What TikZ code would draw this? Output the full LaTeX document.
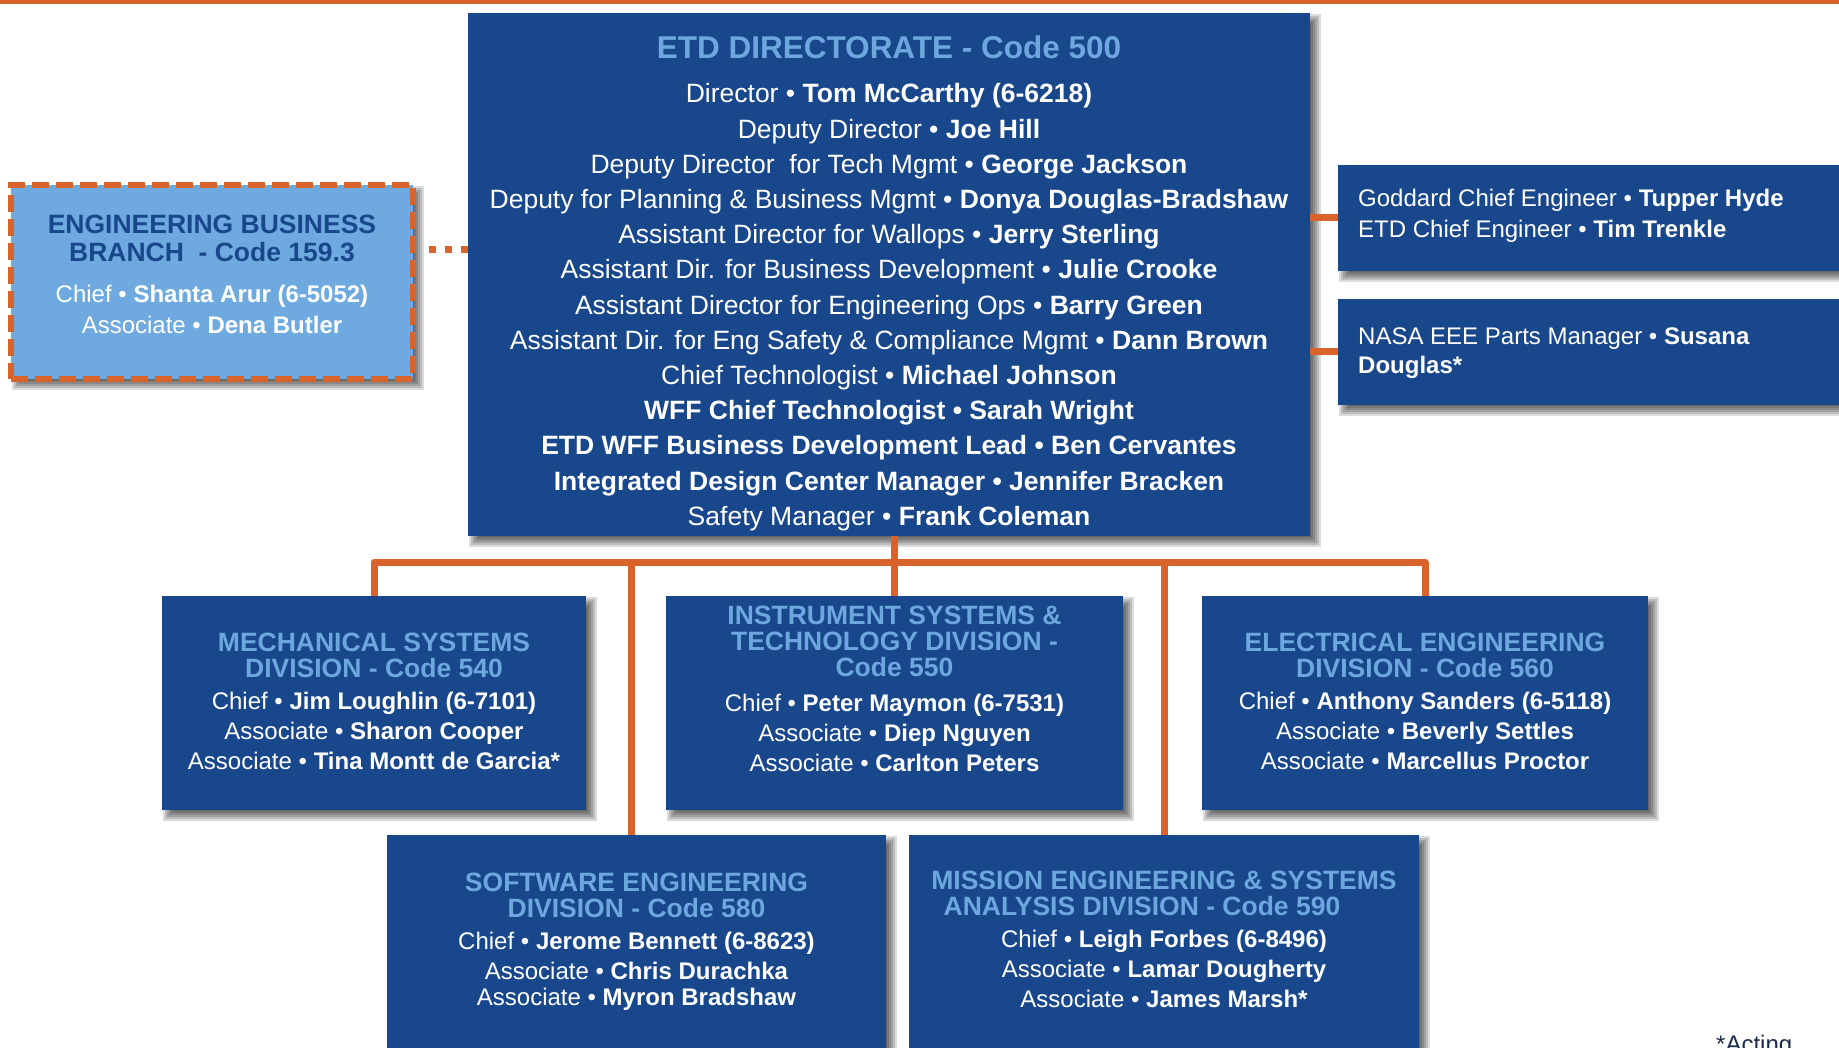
\documentclass[tikz,border=0pt]{standalone}
\usepackage{fontspec}
\setmainfont{Liberation Sans}
\usetikzlibrary{calc}
\definecolor{dblue}{HTML}{19478C}
\definecolor{lblue}{HTML}{6CA8DE}
\definecolor{ebbfill}{HTML}{6EAADF}
\definecolor{orng}{HTML}{D9632B}
\definecolor{navy}{HTML}{1B2B4B}
\pgfdeclarelayer{bg}
\pgfsetlayers{bg,main}
\newcommand\softshadow[1]{%
  \begin{pgfonlayer}{bg}
  \foreach \d in {-5,-3,-1,1,3,5}{
    \fill[black,opacity=0.14] ($(#1.north west)+(6+\d,6+\d)$) rectangle ($(#1.south east)+(6-\d,6-\d)$);
  }
  \end{pgfonlayer}}
\begin{document}
\begin{tikzpicture}[x=1pt,y=-1pt,
  box/.style={fill=dblue, inner sep=0pt, outer sep=0pt},
  ttl/.style={text=lblue, font=\fontsize{26.5}{26.5}\selectfont\bfseries, inner sep=0pt, anchor=base},
  bdy/.style={text=white, font=\fontsize{24}{24}\selectfont, inner sep=0pt, anchor=base},
  ebody/.style={text=white, font=\fontsize{26.5}{26.5}\selectfont, inner sep=0pt, anchor=base},
  conn/.style={draw=orng, line width=7pt},
  dotconn/.style={draw=orng, line width=7pt, dash pattern=on 7pt off 9pt},
]
\useasboundingbox (0,0) rectangle (1839,1048);
\begin{pgfonlayer}{bg}
\fill[white] (0,0) rectangle (1839,1048);
\fill[orng] (0,0) rectangle (1839,4);
\end{pgfonlayer}

% boxes
\node[box, minimum width=842pt, minimum height=523pt] (etd) at (889,274.5) {};
\node[fill=ebbfill, draw=orng, line width=6pt, dash pattern=on 17pt off 7pt,
      minimum width=402pt, minimum height=194pt, inner sep=0pt, outer sep=0pt] (ebb) at (212,282) {};
\node[box, minimum width=600pt, minimum height=106pt] (gce) at (1638,218) {};
\node[box, minimum width=600pt, minimum height=106pt] (eee) at (1638,352) {};
\node[box, minimum width=424pt, minimum height=214pt] (mech) at (374,703) {};
\node[box, minimum width=457pt, minimum height=214pt] (isd) at (894.5,703) {};
\node[box, minimum width=446pt, minimum height=214pt] (eed) at (1425,703) {};
\node[box, minimum width=499pt, minimum height=265pt] (sed) at (636.5,967.5) {};
\node[box, minimum width=510pt, minimum height=265pt] (mesa) at (1164,967.5) {};

% shadows
\softshadow{etd}
\softshadow{ebb}
\softshadow{gce}
\softshadow{eee}
\softshadow{mech}
\softshadow{isd}
\softshadow{eed}
\softshadow{sed}
\softshadow{mesa}

% connectors
\begin{pgfonlayer}{bg}
\coordinate (bar) at (0,562);
\draw[conn] (etd.south -| isd.north) -- (isd.north);
\draw[conn, line join=round] (mech.north) -- (mech.north |- bar) -- (eed.north |- bar) -- (eed.north);
\draw[conn] ([xshift=-5pt]sed.north |- bar) -- ([xshift=-5pt]sed.north);
\draw[conn] (mesa.north |- bar) -- (mesa.north);
\draw[conn] (etd.east |- gce.west) -- (gce.west);
\draw[conn] (etd.east |- eee.west) -- (eee.west);
\coordinate (dp) at ([xshift=16pt,yshift=32pt]ebb.east);
\draw[dotconn] (etd.west |- dp) -- (dp);
\end{pgfonlayer}

% ETD text
\node[ttl, font=\fontsize{31.5}{31.5}\selectfont\bfseries] (etd-t) at (889,59) {ETD DIRECTORATE - Code 500};
\node[ebody] (etd-1) at (889,103) {Director • \textbf{Tom McCarthy (6-6218)}};
\node[ebody] (etd-2) at (889,138.2) {Deputy Director • \textbf{Joe Hill}};
\node[ebody] (etd-3) at (889,173.4) {Deputy Director\ \ for Tech Mgmt • \textbf{George Jackson}};
\node[ebody] (etd-4) at (889,208.5) {Deputy for Planning \& Business Mgmt • \textbf{Donya Douglas-Bradshaw}};
\node[ebody] (etd-5) at (889,243.7) {Assistant Director for Wallops • \textbf{Jerry Sterling}};
\node[ebody] (etd-6) at (889,278.9) {Assistant Dir. for Business Development • \textbf{Julie Crooke}};
\node[ebody] (etd-7) at (889,314.1) {Assistant Director for Engineering Ops • \textbf{Barry Green}};
\node[ebody] (etd-8) at (889,349.3) {Assistant Dir. for Eng Safety \& Compliance Mgmt • \textbf{Dann Brown}};
\node[ebody] (etd-9) at (889,384.4) {Chief Technologist • \textbf{Michael Johnson}};
\node[ebody] (etd-10) at (889,419.6) {\textbf{WFF Chief Technologist • Sarah Wright}};
\node[ebody] (etd-11) at (889,454.8) {\textbf{ETD WFF Business Development Lead • Ben Cervantes}};
\node[ebody] (etd-12) at (889,490) {\textbf{Integrated Design Center Manager • Jennifer Bracken}};
\node[ebody] (etd-13) at (889,525.2) {Safety Manager • \textbf{Frank Coleman}};

% EBB text
\node[ttl, text=dblue] (ebb-t1) at (212,234) {ENGINEERING BUSINESS};
\node[ttl, text=dblue] (ebb-t2) at (212,261.7) {BRANCH\ \ - Code 159.3};
\node[bdy] (ebb-1) at (212,303) {Chief • \textbf{Shanta Arur (6-5052)}};
\node[bdy] (ebb-2) at (212,334) {Associate • \textbf{Dena Butler}};

% right boxes text
\node[bdy, anchor=base west] (gce-1) at (1358,206.7) {Goddard Chief Engineer • \textbf{Tupper Hyde}};
\node[bdy, anchor=base west] (gce-2) at (1358,237.7) {ETD Chief Engineer • \textbf{Tim Trenkle}};
\node[bdy, anchor=base west] (eee-1) at (1358,345) {NASA EEE Parts Manager • \textbf{Susana}};
\node[bdy, anchor=base west] (eee-2) at (1358,373.3) {\textbf{Douglas*}};

% Mechanical
\node[ttl] (mech-t1) at (374,651) {MECHANICAL SYSTEMS};
\node[ttl] (mech-t2) at (374,677) {DIVISION - Code 540};
\node[bdy] (mech-1) at (374,709.5) {Chief • \textbf{Jim Loughlin (6-7101)}};
\node[bdy] (mech-2) at (374,739) {Associate • \textbf{Sharon Cooper}};
\node[bdy] (mech-3) at (374,769.5) {Associate • \textbf{Tina Montt de Garcia*}};

% Instrument
\node[ttl] (isd-t1) at (894.5,624.5) {INSTRUMENT SYSTEMS \&};
\node[ttl] (isd-t2) at (894.5,650.6) {TECHNOLOGY DIVISION -};
\node[ttl] (isd-t3) at (894.5,676) {Code 550};
\node[bdy] (isd-1) at (894.5,711) {Chief • \textbf{Peter Maymon (6-7531)}};
\node[bdy] (isd-2) at (894.5,741.5) {Associate • \textbf{Diep Nguyen}};
\node[bdy] (isd-3) at (894.5,771.5) {Associate • \textbf{Carlton Peters}};

% Electrical
\node[ttl] (eed-t1) at (1425,651) {ELECTRICAL ENGINEERING};
\node[ttl] (eed-t2) at (1425,677) {DIVISION - Code 560};
\node[bdy] (eed-1) at (1425,709.5) {Chief • \textbf{Anthony Sanders (6-5118)}};
\node[bdy] (eed-2) at (1425,739) {Associate • \textbf{Beverly Settles}};
\node[bdy] (eed-3) at (1425,769.5) {Associate • \textbf{Marcellus Proctor}};

% Software
\node[ttl] (sed-t1) at (636.5,891) {SOFTWARE ENGINEERING};
\node[ttl] (sed-t2) at (636.5,917) {DIVISION - Code 580};
\node[bdy] (sed-1) at (636.5,949.5) {Chief • \textbf{Jerome Bennett (6-8623)}};
\node[bdy] (sed-2) at (636.5,979) {Associate • \textbf{Chris Durachka}};
\node[bdy] (sed-3) at (636.5,1005.5) {Associate • \textbf{Myron Bradshaw}};

% Mission
\node[ttl] (mesa-t1) at (1164,889) {MISSION ENGINEERING \& SYSTEMS};
\node[ttl] (mesa-t2) at (1142,915) {ANALYSIS DIVISION - Code 590};
\node[bdy] (mesa-1) at (1164,947.5) {Chief • \textbf{Leigh Forbes (6-8496)}};
\node[bdy] (mesa-2) at (1164,977) {Associate • \textbf{Lamar Dougherty}};
\node[bdy] (mesa-3) at (1164,1007.5) {Associate • \textbf{James Marsh*}};

\node[bdy, text=navy, anchor=base west] (acting) at (1716,1052) {*Acting};
\end{tikzpicture}
\end{document}
